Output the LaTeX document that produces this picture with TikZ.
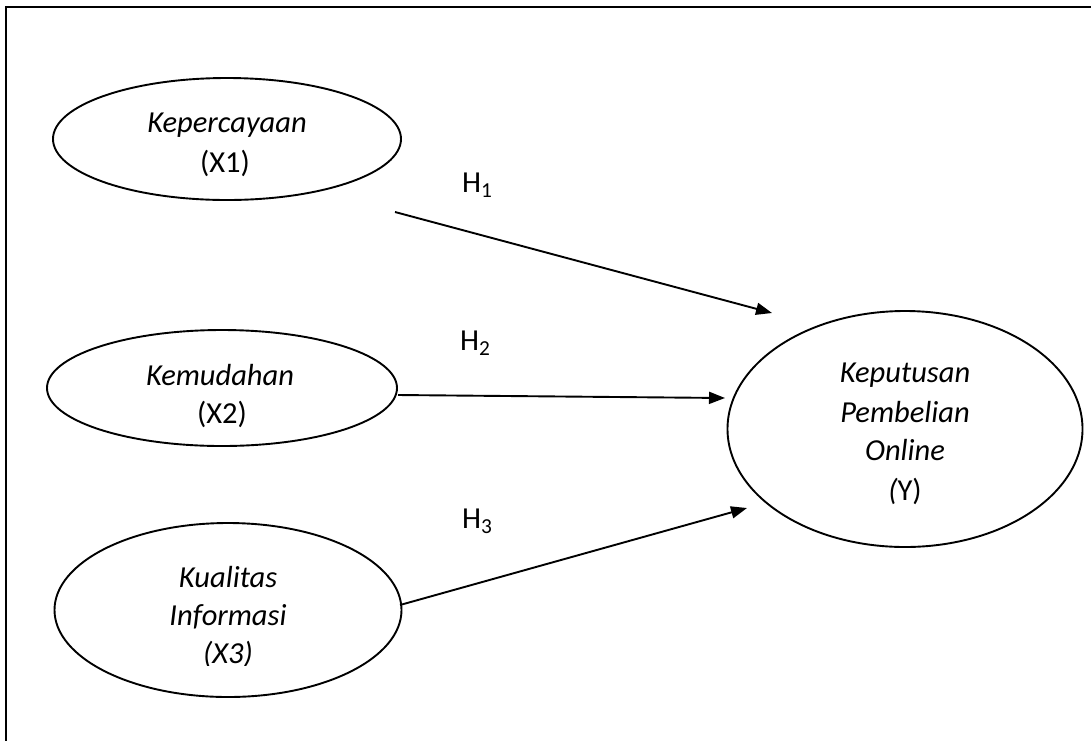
\documentclass[tikz,border=0pt]{standalone}
\usepackage{fontspec}
\setmainfont{Carlito}
\usetikzlibrary{shapes.geometric,arrows.meta}
\begin{document}
\begin{tikzpicture}[x=1pt,y=-1pt,
  oval/.style={draw,ellipse,line width=1.9pt,inner sep=0pt},
  lbl/.style={anchor=base,inner sep=0pt,font=\fontsize{30.5}{36}\selectfont},
  hyp/.style={anchor=base west,inner sep=0pt,font=\fontsize{30.5}{36}\selectfont},
  arr/.style={line width=1.9pt,-{Triangle[length=16pt,width=12pt]}}]
\useasboundingbox (0,0) rectangle (1091,740);
% frame (cropped on right and bottom)
\draw[line width=2.4pt] (6,745) -- (6,7) -- (1096,7);
% ellipses
\node[oval,minimum width=348pt,minimum height=122pt] (e1) at (227,139) {};
\node[oval,minimum width=350pt,minimum height=116pt] (e2) at (222,388) {};
\node[oval,minimum width=347pt,minimum height=174pt] (e3) at (228,610) {};
\node[oval,minimum width=355pt,minimum height=236pt] (ey) at (905,429) {};
% texts
\node[lbl] (t1a) at (227,132) {\itshape Kepercayaan};
\node[lbl] (t1b) at (225,172) {(X1)};
\node[lbl] (t2a) at (220,385) {\itshape Kemudahan};
\node[lbl] (t2b) at (222,423) {(X2)};
\node[lbl] (t3a) at (228,587) {\itshape Kualitas};
\node[lbl] (t3b) at (228,625) {\itshape Informasi};
\begin{scope}
\clip (100,620) rectangle (360,665);
\node[lbl] (t3c) at (228,663) {\itshape (X3)};
\end{scope}
\node[lbl] (tya) at (905,382) {\itshape Keputusan};
\node[lbl] (tyb) at (905,422) {\itshape Pembelian};
\node[lbl] (tyc) at (905,460) {\itshape Online};
\node[lbl] (tyd) at (905,500) {{\itshape (}Y)};
% hypothesis labels
\node[hyp] (h1) at (462,192) {H\textsubscript{1}};
\node[hyp] (h2) at (460,350) {H\textsubscript{2}};
\node[hyp] (h3) at (462,528) {H\textsubscript{3}};
% arrow ends
\coordinate (a1s) at (395,212);
\coordinate (a1e) at (772,313);
\coordinate (a2s) at (398,395);
\coordinate (a2e) at (725,398);
\coordinate (a3s) at (400,605);
\coordinate (a3e) at (747,508);
\draw[arr] (a1s) -- (a1e);
\draw[arr] (a2s) -- (a2e);
\draw[arr] (a3s) -- (a3e);
\end{tikzpicture}
\end{document}
